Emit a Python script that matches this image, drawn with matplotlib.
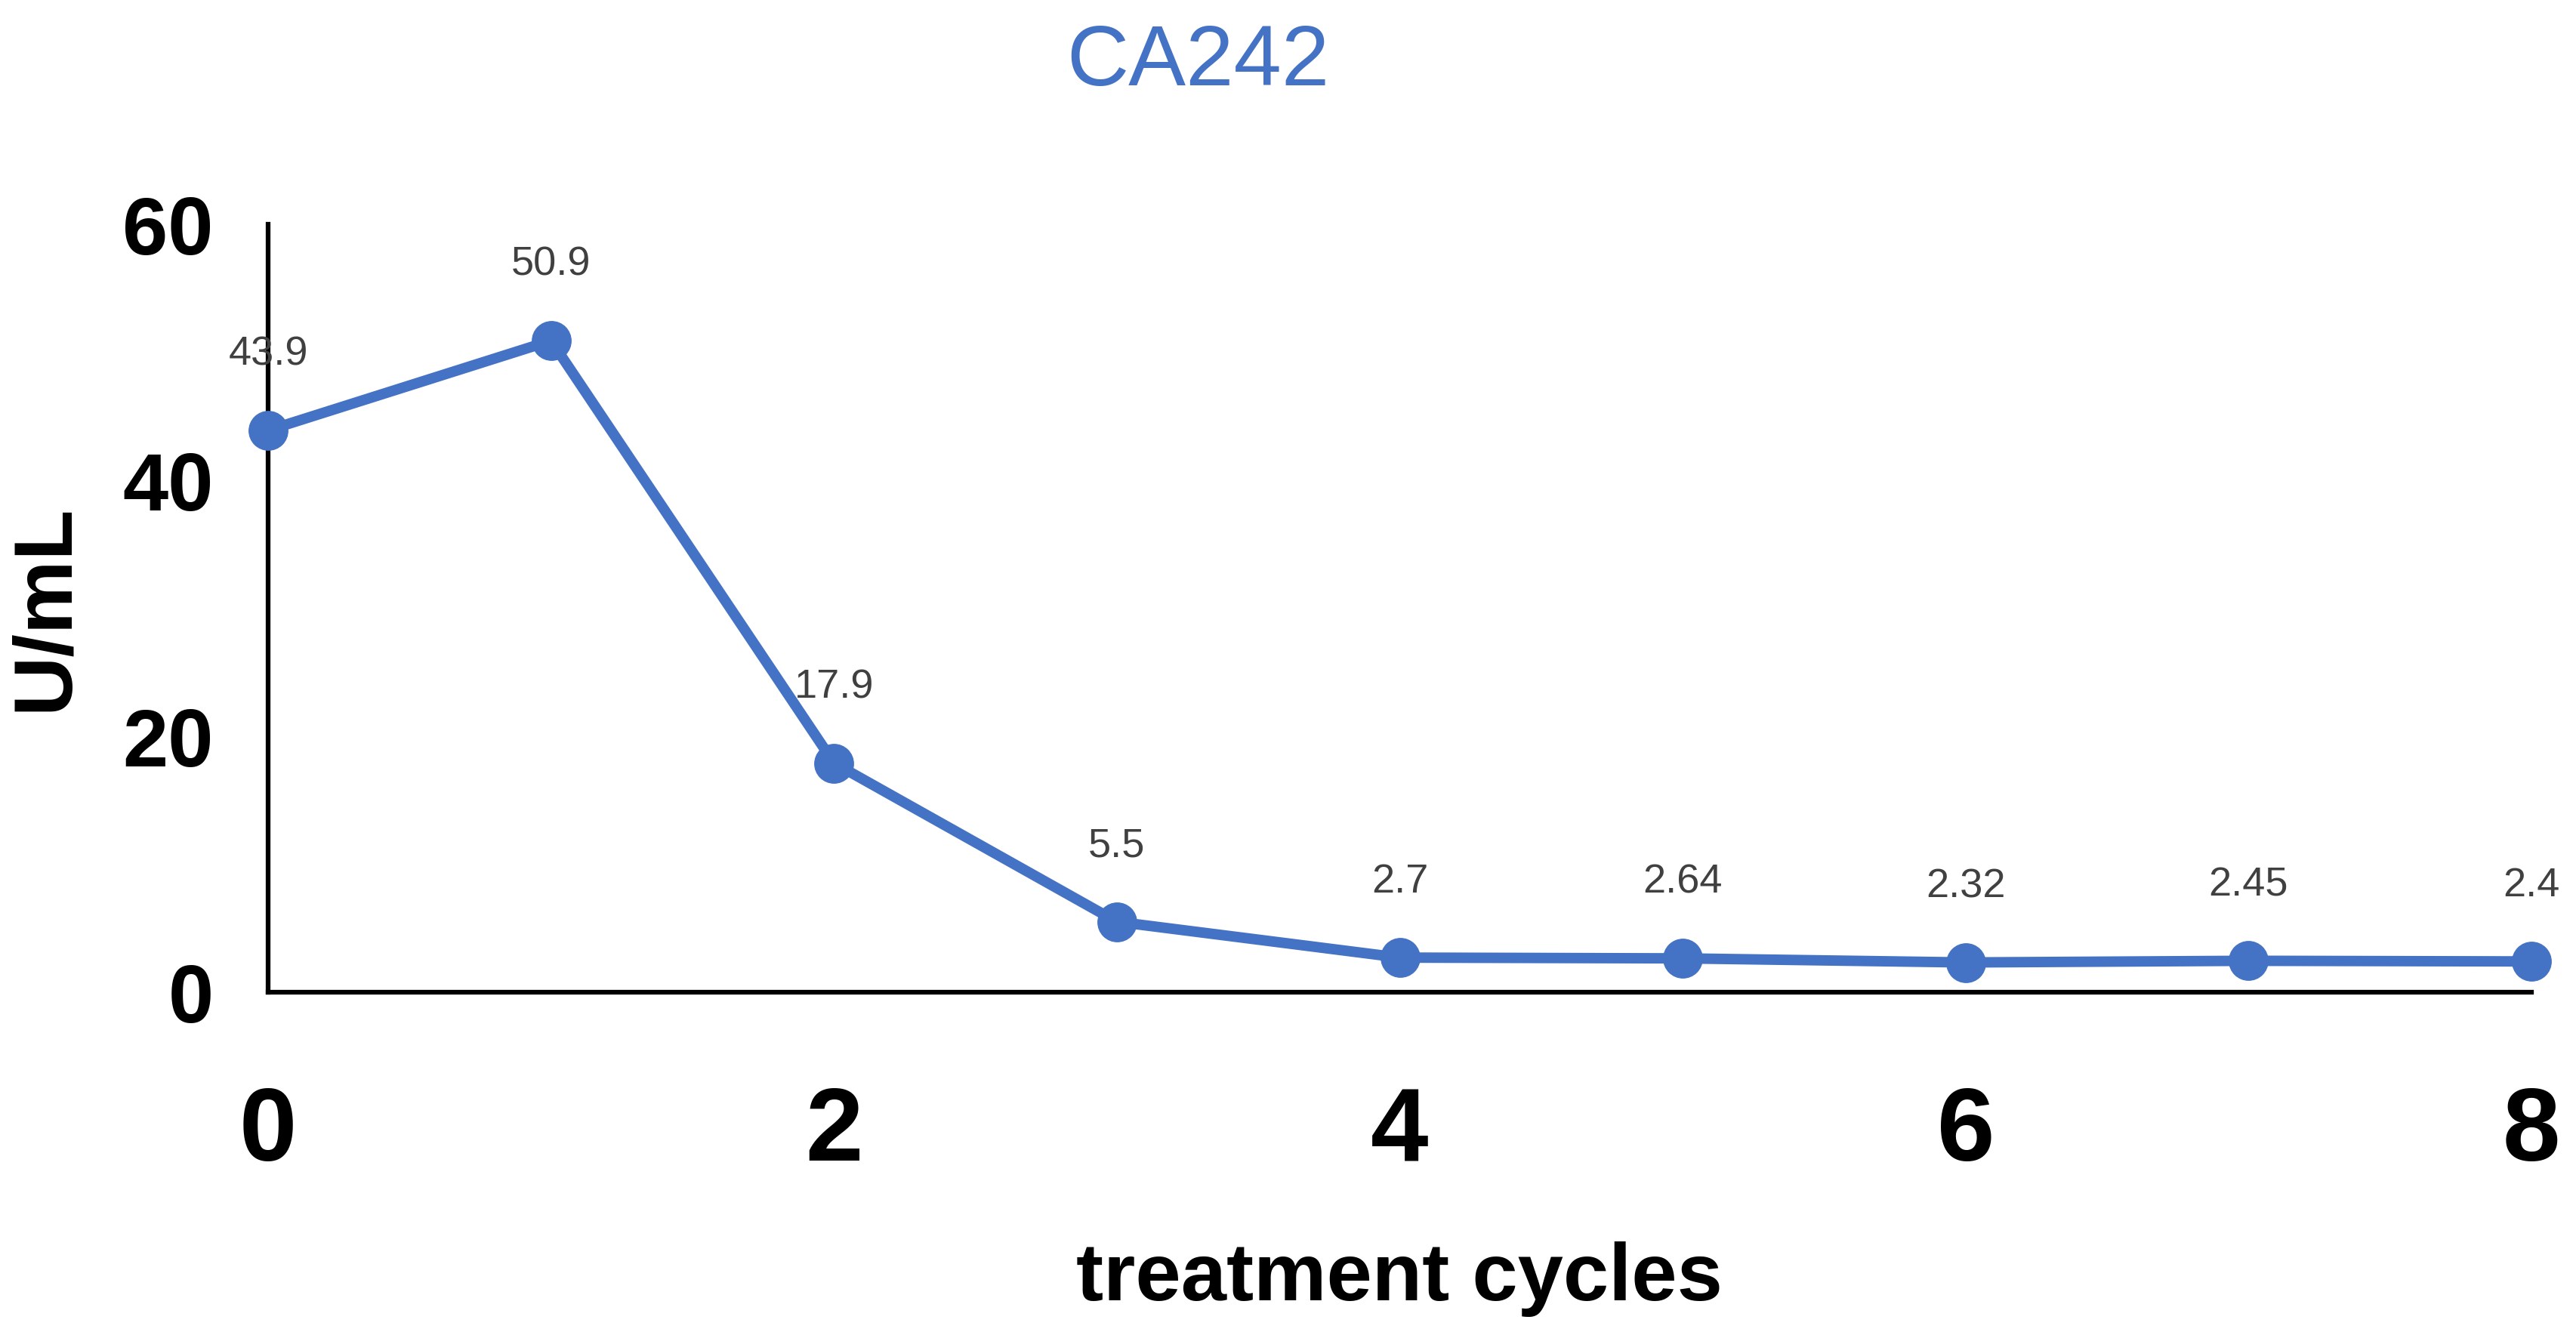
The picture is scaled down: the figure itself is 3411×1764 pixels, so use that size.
import matplotlib
matplotlib.use("Agg")
import matplotlib.pyplot as plt

cycles = [0, 1, 2, 3, 4, 5, 6, 7, 8]
values = [43.9, 50.9, 17.9, 5.5, 2.7, 2.64, 2.32, 2.45, 2.4]
value_labels = ["43.9", "50.9", "17.9", "5.5", "2.7", "2.64", "2.32", "2.45", "2.4"]
x_ticks = [0, 2, 4, 6, 8]
y_ticks = [0, 20, 40, 60]
title = "CA242"
x_label = "treatment cycles"
y_label = "U/mL"

blue = "#4472C4"
plt.rcParams['font.family'] = ['Liberation Sans', 'DejaVu Sans']

fig = plt.figure(figsize=(34.11, 17.65), dpi=100)
ax = fig.add_axes([0.1041, 0.2550, 0.8786, 0.5762])

ax.plot(cycles, values, color=blue, linewidth=10, marker='o', markersize=37,
        clip_on=False, zorder=3)
for xv, yv, lab in zip(cycles, values, value_labels):
    ax.annotate(lab, (xv, yv), xytext=(0, 73), textcoords='offset points',
                ha='center', va='center', fontsize=39, color='#404040')

ax.set_xlim(0, 8)
ax.set_ylim(0, 60)
ax.set_xticks(x_ticks)
ax.set_yticks(y_ticks)
ax.set_xticklabels([str(t) for t in x_ticks], fontsize=99, fontweight='bold')
ax.set_yticklabels([str(t) for t in y_ticks], fontsize=78, fontweight='bold')
ax.tick_params(axis='x', length=0, pad=88)
ax.tick_params(axis='y', length=0, pad=52)
for s in ['top', 'right']:
    ax.spines[s].set_visible(False)
for s in ['left', 'bottom']:
    ax.spines[s].set_linewidth(4.5)
    ax.spines[s].set_color('black')

fig.text(0.465, 0.936, title, ha='center', va='baseline', fontsize=82, color=blue)
fig.text(0.5432, 0.0244, x_label, ha='center', va='baseline', fontsize=78, fontweight='bold')
fig.text(61 / 3411, 1 - 805 / 1765, y_label, ha='center', va='center', rotation=90,
         fontsize=79, fontweight='bold')

fig.savefig("out.png", dpi=100, facecolor='white')
